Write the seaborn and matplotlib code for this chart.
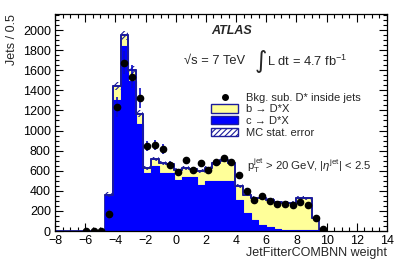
import numpy as np
import pandas as pd
import matplotlib
matplotlib.use("Agg")
import matplotlib.pyplot as plt
import seaborn as sns
from matplotlib.patches import Patch
from matplotlib.lines import Line2D
from matplotlib.ticker import MultipleLocator

# ---------------- data ----------------
bin_low, bin_high = -4.67, 9.52          # edges of the 28 MC bins
n_mc_bins = 28
mc_total = [360, 1440, 1950, 1600, 1165, 630, 720, 675, 670, 610, 625, 615, 595, 625,
            680, 705, 680, 445, 360, 330, 325, 310, 285, 280, 280, 330, 325, 130]
c_to_dstar = [350, 1300, 1845, 1495, 1070, 575, 645, 580, 577, 503, 537, 537, 455, 500,
              495, 495, 495, 310, 180, 105, 60, 35, 15, 12, 10, 10, 8, 5]
mc_stat_err = [25, 40, 45, 40, 35, 20, 20, 20, 20, 20, 20, 20, 20, 20,
               20, 20, 20, 18, 15, 15, 15, 15, 15, 15, 15, 15, 15, 10]
data_first_bin = -3                      # data starts 3 bins left of the MC
data_values = [0, 0, 0, 167, 1237, 1677, 1537, 1327, 845, 860, 818, 660, 587, 703, 603,
               677, 607, 687, 722, 690, 560, 395, 310, 345, 300, 272, 270, 258, 293,
               255, 127, 20]
data_errors = [0, 0, 0, 55, 100, 115, 115, 100, 50, 50, 50, 35, 30, 30, 30, 30, 30, 30,
               30, 30, 30, 25, 20, 20, 20, 20, 20, 20, 20, 20, 15, 10]
x_ticks = [-8, -6, -4, -2, 0, 2, 4, 6, 8, 10, 12, 14]
y_ticks = [0, 200, 400, 600, 800, 1000, 1200, 1400, 1600, 1800, 2000]

# ---------------- derived ----------------
edges = np.linspace(bin_low, bin_high, n_mc_bins + 1)
width = edges[1] - edges[0]
centers = 0.5 * (edges[:-1] + edges[1:])
mc_total_a = np.array(mc_total, float)
c_a = np.array(c_to_dstar, float)
err_a = np.array(mc_stat_err, float)
data_x = bin_low + width * (np.arange(len(data_values)) + data_first_bin + 0.5)

df = pd.DataFrame({"x": centers, "total": mc_total_a, "c": c_a})

sns.set_style("ticks")
plt.rcParams["font.family"] = ["Liberation Sans", "DejaVu Sans"]
plt.rcParams["mathtext.fontset"] = "custom"
plt.rcParams["mathtext.rm"] = "Liberation Sans"
plt.rcParams["mathtext.it"] = "Liberation Sans:italic"

W, H = 407, 276
fig = plt.figure(figsize=(W / 100, H / 100), dpi=100)
ax = fig.add_axes([55 / W, 45 / H, 332 / W, 217 / H])

yellow = "#ffff99"
blue = "#0000ff"
navy = "#1c1c9c"

sns.histplot(data=df, x="x", weights="total", bins=n_mc_bins,
             binrange=(bin_low, bin_high), element="step", fill=True,
             color=yellow, alpha=1, edgecolor=navy, linewidth=1.3, ax=ax)
sns.histplot(data=df, x="x", weights="c", bins=n_mc_bins,
             binrange=(bin_low, bin_high), element="step", fill=True,
             color=blue, alpha=1, edgecolor=blue, linewidth=0.8, ax=ax)

# MC stat error band
lo = np.append(mc_total_a - err_a, (mc_total_a - err_a)[-1])
hi = np.append(mc_total_a + err_a, (mc_total_a + err_a)[-1])
plt.rcParams["hatch.linewidth"] = 0.8
plt.rcParams["hatch.color"] = navy
ax.fill_between(edges, lo, hi, step="post", facecolor="none", edgecolor=navy,
                hatch="//////", linewidth=0)
# redraw total outline on top
ax.step(edges, np.append(mc_total_a, mc_total_a[-1]), where="post", color=navy, lw=1.3)
ax.plot([-8, bin_low], [0, 0], color=navy, lw=1.3)

# data
ax.errorbar(data_x, data_values, yerr=data_errors, fmt="o", color="black", ms=4.5,
            ecolor="#0a0ac8", elinewidth=1.2, capsize=0, zorder=5)

ax.set_xlim(-8, 14)
ax.set_ylim(0, 2160)
ax.set_xticks(x_ticks)
ax.set_yticks(y_ticks)
ax.set_xticklabels([str(v).replace("-", "\u2212") for v in x_ticks])
ax.xaxis.set_minor_locator(MultipleLocator(0.5))
ax.yaxis.set_minor_locator(MultipleLocator(50))
ax.tick_params(which="both", direction="in", top=True, right=True, labelsize=9,
               colors="black")
ax.tick_params(which="major", length=6, width=0.8)
ax.tick_params(which="minor", length=3, width=0.8)
ax.tick_params(axis="x", pad=3)
ax.tick_params(axis="y", pad=3)
for s in ax.spines.values():
    s.set_color("black")
    s.set_linewidth(0.9)

ax.set_xlabel("JetFitterCOMBNN weight", fontsize=9, loc="right")
ax.set_ylabel("Jets / 0.5", fontsize=9, loc="top")
ax.xaxis.set_label_coords(1.0, -0.072)
ax.yaxis.set_label_coords(-0.112, 1.0)

# annotations
def fx(px):
    return (px - 55) / 332
def fy(py):
    return (231 - py) / 217

ax.text(fx(211.5), fy(31.5), "ATLAS", transform=ax.transAxes, fontsize=9,
        fontweight="bold", fontstyle="italic", va="center", ha="left")
ax.text(fx(184), fy(61), "\u221as = 7 TeV", transform=ax.transAxes, fontsize=9.3,
        va="center", ha="left")
ax.text(fx(261), fy(61), "\u222b", transform=ax.transAxes, fontsize=17,
        va="center", ha="center", family=["DejaVu Sans"])
ax.text(fx(267), fy(61), "L dt = 4.7 fb$^{-1}$", transform=ax.transAxes, fontsize=9.3,
        va="center", ha="left")
ax.text(fx(247), fy(166), r"p$_\mathrm{T}^\mathrm{jet}$ > 20 GeV, |$\eta^\mathrm{jet}$| < 2.5",
        transform=ax.transAxes, fontsize=8.2, va="center", ha="left")

handles = [
    Line2D([], [], marker="o", color="black", ls="none", ms=4),
    Patch(facecolor=yellow, edgecolor=navy, linewidth=1.0),
    Patch(facecolor=blue, edgecolor=navy, linewidth=1.0),
    Patch(facecolor="white", edgecolor=navy, hatch="//////", linewidth=1.0),
]
labels = ["Bkg. sub. D* inside jets", "b \u2192 D*X", "c \u2192 D*X", "MC stat. error"]
ax.legend(handles, labels, loc="upper left", bbox_to_anchor=(fx(211), fy(92.5)),
          frameon=False, fontsize=8, handlelength=2.45, handleheight=0.8,
          handletextpad=0.7, labelspacing=0.14, borderpad=0, borderaxespad=0)

fig.savefig("out.png", dpi=100)
